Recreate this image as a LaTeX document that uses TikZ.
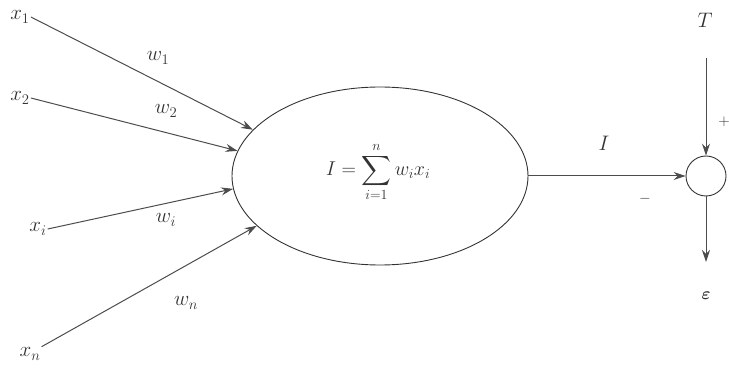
\documentclass[tikz,border=0pt]{standalone}
\usepackage{fix-cm}
\usepackage{amsmath}
\usetikzlibrary{arrows.meta,shapes.geometric}
\begin{document}
\begin{tikzpicture}[x=1pt,y=-1pt,
  font=\fontsize{21}{25}\selectfont,
  lbl/.style={inner sep=1pt,text=black!80},
  wire/.style={draw=black!70,line width=1pt,-{Stealth[length=12pt,width=8pt,inset=4pt]}},
  plain/.style={draw=black!70,line width=1pt}]
\useasboundingbox (0,0) rectangle (729,371);
\node[ellipse,draw=black!80,line width=0.9pt,minimum width=296pt,minimum height=178pt,inner sep=0pt] (e) at (380,176) {};
\node[lbl,font=\fontsize{20}{24}\selectfont] (f) at (378,172) {$\displaystyle I = \sum_{i=1}^{n} w_i x_i$};
\node[circle,draw=black!80,line width=0.9pt,minimum size=40pt,inner sep=0pt] (c) at (706,176) {};
\node[lbl] (x1) at (20,17) {$x_1$};
\node[lbl] (x2) at (20,98) {$x_2$};
\node[lbl] (xi) at (38,229) {$x_i$};
\node[lbl] (xn) at (30,354) {$x_n$};
\node[lbl] (w1) at (158,58) {$w_1$};
\node[lbl] (w2) at (166,111) {$w_2$};
\node[lbl] (wi) at (166,220) {$w_i$};
\node[lbl] (wn) at (186,303) {$w_n$};
\node[lbl] (T) at (705,20) {$T$};
\coordinate (Ttop) at (706,58);
\coordinate (out) at (706,262);
\node[lbl,font=\fontsize{17}{20}\selectfont] (eps) at (706,296) {$\boldsymbol{\varepsilon}$};
\node[lbl] (I) at (604,143) {$I$};
\node[lbl,font=\fontsize{15}{18}\selectfont] (plus) at (724,122) {$+$};
\node[lbl,font=\fontsize{15}{18}\selectfont] (minus) at (645,199) {$-$};
\draw[wire] (x1.east) -- (e.160);
\draw[wire] (x2.east) -- (e.170);
\draw[wire] (xi.east) -- (e.185);
\draw[wire] (xn.north east) -- (e.202);
\draw[wire] (e.east) -- (c.west);
\draw[wire] (Ttop) -- (c.north);
\draw[wire] (c.south) -- (out);
\end{tikzpicture}
\end{document}
